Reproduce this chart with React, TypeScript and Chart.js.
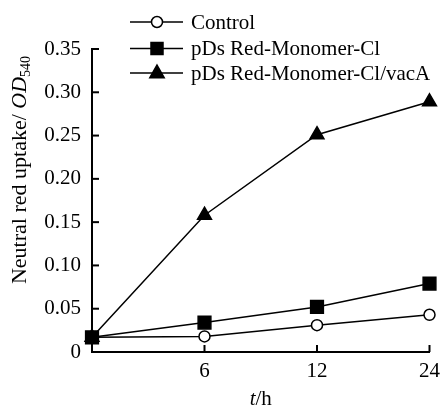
import React, { useEffect, useRef } from "react";
import { Chart, registerables } from "chart.js";

Chart.register(...registerables);

const timeLabels = ["0", "6", "12", "24"];
const controlValues = [0.017, 0.018, 0.031, 0.043];
const monomerValues = [0.017, 0.034, 0.052, 0.079];
const vacAValues = [0.017, 0.158, 0.251, 0.289];
const seriesNames = ["Control", "pDs Red-Monomer-Cl", "pDs Red-Monomer-Cl/vacA"];
const yTicks = [0, 0.05, 0.1, 0.15, 0.2, 0.25, 0.3, 0.35];

const FONT = '"Liberation Serif", "Times New Roman", serif';

function drawMarker(ctx: CanvasRenderingContext2D, style: string, x: number, y: number, fill: string) {
  ctx.save();
  ctx.fillStyle = fill;
  ctx.strokeStyle = "#000";
  ctx.lineWidth = 1.5;
  ctx.beginPath();
  if (style === "circle") {
    ctx.arc(x, y, 5.5, 0, Math.PI * 2);
  } else if (style === "rect") {
    ctx.rect(x - 6, y - 6, 12, 12);
  } else {
    const r = 8;
    ctx.moveTo(x, y - r);
    ctx.lineTo(x + r * 0.9, y + r * 0.6);
    ctx.lineTo(x - r * 0.9, y + r * 0.6);
    ctx.closePath();
  }
  ctx.fill();
  ctx.stroke();
  ctx.restore();
}

const decorPlugin = {
  id: "decor",
  afterDraw(chart: any) {
    const ctx: CanvasRenderingContext2D = chart.ctx;
    const area = chart.chartArea;
    const xs = chart.scales.x;
    const ys = chart.scales.y;
    ctx.save();
    ctx.strokeStyle = "#000";
    ctx.lineWidth = 2;
    // inward y ticks
    yTicks.forEach((v) => {
      const py = ys.getPixelForValue(v);
      ctx.beginPath();
      ctx.moveTo(area.left, py);
      ctx.lineTo(area.left + 7, py);
      ctx.stroke();
    });
    // inward x ticks
    timeLabels.forEach((_, i) => {
      if (i === 0) return;
      const px = xs.getPixelForValue(i);
      ctx.beginPath();
      ctx.moveTo(px, area.bottom);
      ctx.lineTo(px, area.bottom - 7);
      ctx.stroke();
    });

    // legend
    const rows = [22, 48.5, 73];
    const styles = ["circle", "rect", "triangle"];
    const fills = ["#fff", "#000", "#000"];
    rows.forEach((ry, i) => {
      ctx.lineWidth = 1.5;
      ctx.beginPath();
      ctx.moveTo(130, ry);
      ctx.lineTo(183, ry);
      ctx.stroke();
      drawMarker(ctx, styles[i], 157, ry, fills[i]);
      ctx.fillStyle = "#000";
      ctx.font = `21px ${FONT}`;
      ctx.textBaseline = "middle";
      ctx.textAlign = "left";
      ctx.fillText(seriesNames[i], 191, ry + 1);
    });

    // y title
    ctx.save();
    ctx.translate(19, 170);
    ctx.rotate(-Math.PI / 2);
    ctx.fillStyle = "#000";
    ctx.textBaseline = "alphabetic";
    ctx.textAlign = "left";
    const p1 = "Neutral red uptake/ ";
    const p2 = "OD";
    const p3 = "540";
    ctx.font = `22px ${FONT}`;
    const w1 = ctx.measureText(p1).width;
    ctx.font = `italic 22px ${FONT}`;
    const w2 = ctx.measureText(p2).width;
    ctx.font = `14px ${FONT}`;
    const w3 = ctx.measureText(p3).width;
    let sx = -(w1 + w2 + w3) / 2;
    const base = 7;
    ctx.font = `22px ${FONT}`;
    ctx.fillText(p1, sx, base);
    sx += w1;
    ctx.font = `italic 22px ${FONT}`;
    ctx.fillText(p2, sx, base);
    sx += w2;
    ctx.font = `14px ${FONT}`;
    ctx.fillText(p3, sx, base + 4);
    ctx.restore();

    // x title
    ctx.fillStyle = "#000";
    ctx.textBaseline = "alphabetic";
    ctx.textAlign = "left";
    ctx.font = `italic 21px ${FONT}`;
    const tw = ctx.measureText("t").width;
    ctx.font = `21px ${FONT}`;
    const hw = ctx.measureText("/h").width;
    const cx = (area.left + area.right) / 2;
    let tx = cx - (tw + hw) / 2;
    ctx.font = `italic 21px ${FONT}`;
    ctx.fillText("t", tx, 405);
    ctx.font = `21px ${FONT}`;
    ctx.fillText("/h", tx + tw, 405);
    ctx.restore();
  },
};

export default function App() {
  const ref = useRef<HTMLCanvasElement | null>(null);
  useEffect(() => {
    if (!ref.current) return;
    const common = {
      borderColor: "#000",
      pointBorderColor: "#000",
      borderWidth: 1.5,
      pointBorderWidth: 1.5,
      clip: false as any,
      tension: 0,
    };
    const chart = new Chart(ref.current, {
      type: "line",
      data: {
        labels: timeLabels,
        datasets: [
          {
            ...common,
            label: seriesNames[0],
            data: controlValues,
            pointStyle: "circle",
            pointRadius: 5.5,
            pointBackgroundColor: "#fff",
            backgroundColor: "#fff",
            order: 1,
          },
          {
            ...common,
            label: seriesNames[1],
            data: monomerValues,
            pointStyle: "rect",
            pointRadius: 9,
            pointBackgroundColor: "#000",
            backgroundColor: "#000",
            order: 0,
          },
          {
            ...common,
            label: seriesNames[2],
            data: vacAValues,
            pointStyle: "triangle",
            pointRadius: 8,
            pointBackgroundColor: "#000",
            backgroundColor: "#000",
            order: 2,
          },
        ],
      },
      options: {
        responsive: false,
        animation: false,
        layout: { padding: { top: 49, right: 11, left: 0, bottom: 0 } },
        plugins: { legend: { display: false }, tooltip: { enabled: false } },
        scales: {
          x: {
            type: "category",
            offset: false,
            grid: { display: false, drawTicks: false },
            border: { display: true, color: "#000", width: 2 },
            ticks: {
              color: "#000",
              font: { family: FONT, size: 21 },
              padding: 7,
              maxRotation: 0,
              autoSkip: false,
              callback: (v: any, i: number) => (i === 0 ? "" : timeLabels[i]),
            },
            afterFit: (s: any) => {
              s.height = 56;
            },
          },
          y: {
            min: 0,
            max: 0.35,
            grid: { display: false, drawTicks: false },
            border: { display: true, color: "#000", width: 2 },
            ticks: {
              stepSize: 0.05,
              color: "#000",
              font: { family: FONT, size: 21 },
              padding: 11,
              callback: (v: any) => (Math.abs(v) < 1e-9 ? "0" : Number(v).toFixed(2)),
            },
            afterFit: (s: any) => {
              s.width = 92;
            },
          },
        },
      },
      plugins: [decorPlugin],
    });
    return () => chart.destroy();
  }, []);
  return (
    <div style={{ position: "fixed", left: 0, top: 0, width: 447, height: 408, background: "#fff" }}>
      <canvas ref={ref} width={447} height={408} />
    </div>
  );
}
